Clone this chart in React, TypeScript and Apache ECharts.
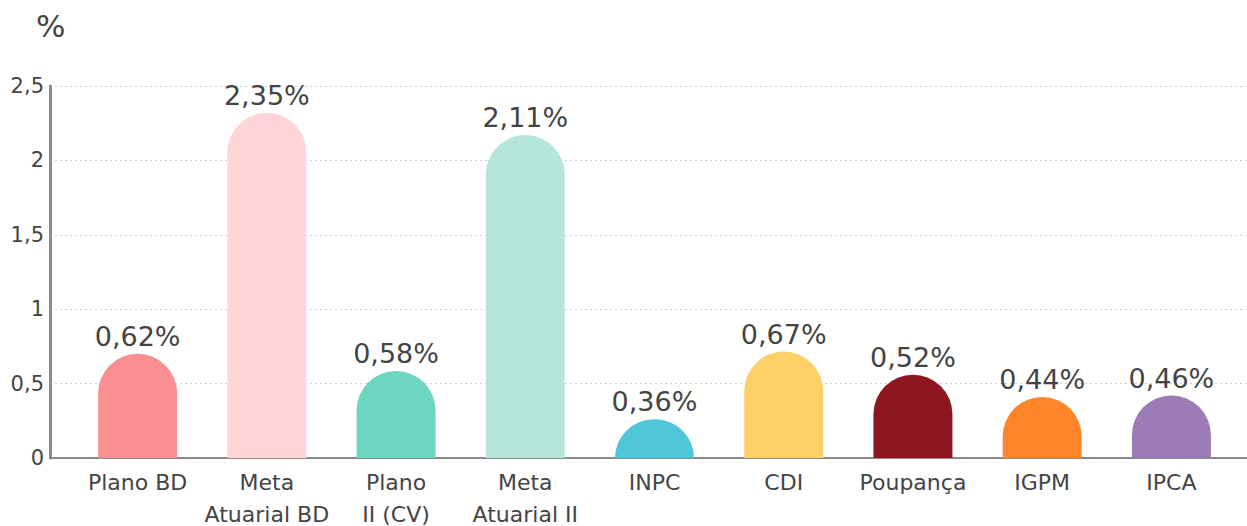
import React, { useEffect, useRef } from "react";
import * as echarts from "echarts";

const categories = [
  "Plano BD",
  "Meta\nAtuarial BD",
  "Plano\nII (CV)",
  "Meta\nAtuarial II",
  "INPC",
  "CDI",
  "Poupança",
  "IGPM",
  "IPCA",
];
// heights of the drawn bars
const barHeights = [0.7, 2.32, 0.585, 2.17, 0.26, 0.715, 0.56, 0.41, 0.42];
// values printed above the bars
const labelValues = [0.62, 2.35, 0.58, 2.11, 0.36, 0.67, 0.52, 0.44, 0.46];
const barColors = [
  "#F98F90",
  "#FFD5D8",
  "#6DD6C0",
  "#B5E5DB",
  "#50C6DA",
  "#FFD068",
  "#8D1620",
  "#FF852A",
  "#9D7BB6",
];
const yMin = 0;
const yMax = 2.5;
const yStep = 0.5;

const FONT = "DejaVu Sans";
const TEXT = "#444";

export default function App() {
  const ref = useRef<HTMLDivElement>(null);
  useEffect(() => {
    document.body.style.margin = "0";
    const chart = echarts.init(ref.current!, undefined, { renderer: "svg" });
    const fmt = (v: number) => String(v).replace(".", ",");
    chart.setOption({
      animation: false,
      title: {
        text: "%",
        left: 31,
        top: 5,
        textStyle: { fontFamily: FONT, fontSize: 31, fontWeight: "normal", color: TEXT },
      },
      grid: [
        { left: 50, right: 0, top: 86, bottom: 68, outerBoundsMode: "none", containLabel: false },
        { left: 73, right: 11, top: 86, bottom: 68, outerBoundsMode: "none", containLabel: false },
      ],
      xAxis: [
        {
          gridIndex: 0,
          type: "value",
          min: 0,
          max: 1,
          axisLine: { show: true, lineStyle: { color: "#8a8a8a", width: 2 } },
          axisTick: { show: false },
          axisLabel: { show: false },
          splitLine: { show: false },
        },
        {
          gridIndex: 1,
          type: "category",
          data: categories,
          axisLine: { show: false },
          axisTick: { show: false },
          axisLabel: {
            fontFamily: FONT,
            fontSize: 22,
            color: TEXT,
            lineHeight: 32,
            margin: 8,
            interval: 0,
          },
        },
      ],
      yAxis: [
        {
          gridIndex: 0,
          type: "value",
          min: yMin,
          max: yMax,
          interval: yStep,
          axisLine: { show: true, lineStyle: { color: "#8a8a8a", width: 3 } },
          axisTick: { show: false },
          axisLabel: {
            fontFamily: FONT,
            fontSize: 21,
            color: TEXT,
            margin: 6,
            formatter: (v: number) => fmt(v),
          },
          splitLine: { show: true, lineStyle: { color: "#cfcfcf", type: [2, 3], width: 1 } },
        },
        {
          gridIndex: 1,
          type: "value",
          min: yMin,
          max: yMax,
          interval: yStep,
          show: false,
          splitLine: { show: false },
        },
      ],
      series: [
        {
          type: "bar",
          xAxisIndex: 1,
          yAxisIndex: 1,
          barWidth: 79,
          data: barHeights.map((v, i) => ({
            value: v,
            itemStyle: { color: barColors[i], borderRadius: [40, 40, 0, 0] },
          })),
          label: {
            show: true,
            position: "top",
            distance: 4,
            fontFamily: FONT,
            fontSize: 27,
            color: TEXT,
            formatter: (p: any) => labelValues[p.dataIndex].toFixed(2).replace(".", ",") + "%",
          },
        },
      ],
    });
    return () => chart.dispose();
  }, []);
  return <div ref={ref} style={{ width: 1247, height: 526 }} />;
}
